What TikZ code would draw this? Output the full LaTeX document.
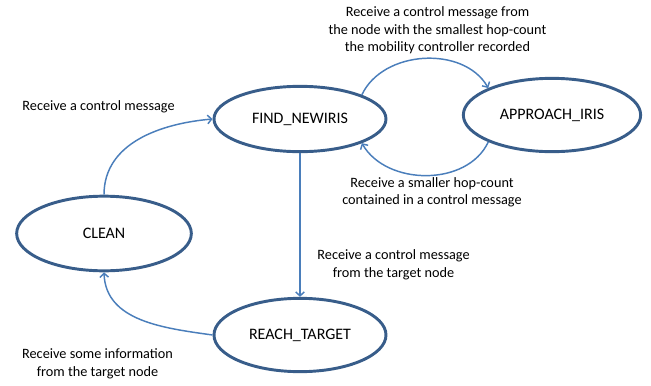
\documentclass[tikz,border=0pt]{standalone}
\usepackage{fontspec}
\setmainfont{Carlito}
\usetikzlibrary{shapes.geometric,arrows.meta}
\definecolor{statecol}{HTML}{385D8A}
\definecolor{edgecol}{HTML}{4A7EBB}

\begin{document}
\begin{tikzpicture}[x=0.75pt,y=-0.75pt,
  state/.style={ellipse,draw=statecol,line width=2.2pt,inner sep=0pt,font=\fontsize{12}{14}\selectfont},
  edge/.style={draw=edgecol,line width=1.1pt,-{Straight Barb[length=3pt,width=6.5pt]}},
  lbl/.style={align=center,font=\fontsize{10.7}{13.1}\selectfont}]
\useasboundingbox (0,0) rectangle (651,386);

\node[state,minimum width=129pt,minimum height=49pt] (find) at (300,119) {FIND\_NEWIRIS};
\node[state,minimum width=133pt,minimum height=55pt] (approach) at (552,115) {APPROACH\_IRIS};
\node[state,minimum width=131pt,minimum height=56pt] (clean) at (104,233.5) {CLEAN};
\node[state,minimum width=129pt,minimum height=55pt] (reach) at (300,335) {REACH\_TARGET};

\draw[edge] (find.north east) to[out=65,in=120] (approach.north west);
\draw[edge] (approach.south west) to[out=-115,in=-60] (find.south east);
\draw[edge] (clean.north) to[out=90,in=185] (find.west);
\draw[edge] (find.south) -- (reach.north);
\draw[edge] (reach.west) to[out=172,in=-88] (clean.south);

\node[lbl] (upper) at (437.5,30.5) {Receive a control message from\\the node with the smallest hop-count\\the mobility controller recorded};
\node[lbl] (lower) at (432,192.5) {Receive a smaller hop-count\\contained in a control message};
\node[lbl] (toclean) at (98.5,106.5) {Receive a control message};
\node[lbl] (totarget) at (393.5,265) {Receive a control message\\from the target node};
\node[lbl] (fromtarget) at (97.5,364) {Receive some information\\from the target node};
\end{tikzpicture}
\end{document}
